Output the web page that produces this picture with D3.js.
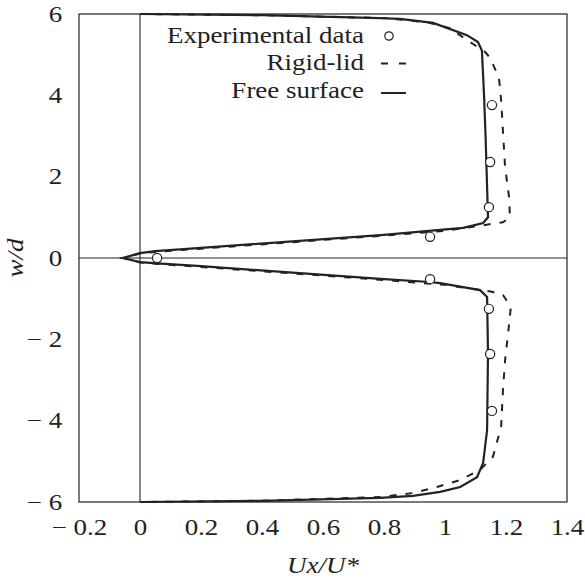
<!DOCTYPE html>
<html>
<head>
<meta charset="utf-8">
<script src="https://cdn.jsdelivr.net/npm/d3@7"></script>
<style>
  body { margin: 0; background: #fff; }
  svg text { font-family: "Liberation Serif", "DejaVu Serif", serif; fill: #222; }
</style>
</head>
<body>
<div id="chart"></div>
<script>
// tick values and labels
var xTicks = [-0.2, 0, 0.2, 0.4, 0.6, 0.8, 1, 1.2, 1.4];
var xTickLabels = ['\u2212 0.2', '0', '0.2', '0.4', '0.6', '0.8', '1', '1.2', '1.4'];
var yTicks = [-6, -4, -2, 0, 2, 4, 6];
var yTickLabels = ['\u2212 6', '\u2212 4', '\u2212 2', '0', '2', '4', '6'];

// free surface (solid) as [Ux/U*, w/d]
var freeSurface = [
  [0, 6], [0.4, 5.97], [0.787, 5.9], [0.852, 5.88], [0.961, 5.78], [1.072, 5.48],
  [1.108, 5.31], [1.121, 5.1], [1.128, 4.0], [1.133, 3.0], [1.137, 2.0], [1.141, 1.0],
  [1.125, 0.86], [1.06, 0.74], [0.984, 0.69], [0.8, 0.57], [0.5, 0.41], [0.2, 0.25],
  [0.05, 0.17], [0, 0.12], [-0.056, 0],
  [0, -0.1], [0.056, -0.13], [0.2, -0.2], [0.5, -0.36], [0.8, -0.52], [0.95, -0.59],
  [0.984, -0.62], [1.115, -0.79], [1.138, -0.96], [1.141, -2.34], [1.138, -4.23],
  [1.125, -5.04], [1.105, -5.39], [1.05, -5.63], [0.984, -5.75], [0.895, -5.85],
  [0.787, -5.9], [0.4, -5.97], [0, -6]
];

// rigid-lid (dashed)
var rigidLid = [
  [0, 6], [0.4, 5.97], [0.8, 5.9], [0.94, 5.8], [1.016, 5.65], [1.082, 5.31],
  [1.131, 5.07], [1.148, 4.92], [1.177, 4.43], [1.184, 3.88], [1.197, 2.24],
  [1.21, 1.5], [1.213, 1.0], [1.19, 0.88], [1.12, 0.8], [1.0, 0.67], [0.8, 0.55],
  [0.5, 0.39], [0.2, 0.23], [0.05, 0.15], [0, 0.11], [-0.056, 0],
  [0, -0.11], [0.05, -0.14], [0.2, -0.22], [0.5, -0.38], [0.8, -0.54], [1.0, -0.66],
  [1.154, -0.83], [1.19, -0.91], [1.216, -1.2], [1.207, -1.85], [1.197, -2.51],
  [1.19, -3.25], [1.184, -4.16], [1.157, -4.89], [1.115, -5.21], [1.05, -5.46],
  [0.974, -5.63], [0.895, -5.78], [0.787, -5.88], [0.4, -5.97], [0, -6]
];

// experimental data (circles)
var experimental = [
  [0.056, 0], [0.951, 0.52], [0.951, -0.52], [1.144, 1.25], [1.148, 2.36],
  [1.154, 3.76], [1.144, -1.25], [1.148, -2.36], [1.154, -3.76]
];

var legendItems = ['Experimental data', 'Rigid-lid', 'Free surface'];

// the original type is a little wider than Liberation Serif
var stretch = 'scale(1.2,1)';

var render = function () {
  var width = 585;
  var height = 583;
  var margins = { top: 14, right: 18, bottom: 81, left: 79 };
  var chartWidth = width - margins.left - margins.right;
  var chartHeight = height - margins.top - margins.bottom;
  var ink = '#222';

  var svg = d3.select('#chart')
    .append('svg')
    .attr('width', width)
    .attr('height', height);

  var chart = svg.append('g')
    .attr('transform', `translate(${margins.left},${margins.top})`);

  var x = d3.scaleLinear().domain([-0.2, 1.4]).range([0, chartWidth]);
  var y = d3.scaleLinear().domain([-6, 6]).range([chartHeight, 0]);

  // axes: labels only, no tick marks
  var xAxis = chart.append('g')
    .attr('transform', `translate(0,${chartHeight})`)
    .call(d3.axisBottom(x)
      .tickValues(xTicks)
      .tickSize(0)
      .tickPadding(17)
      .tickFormat((d, i) => xTickLabels[i]));

  var yAxis = chart.append('g')
    .call(d3.axisLeft(y)
      .tickValues(yTicks)
      .tickSize(0)
      .tickPadding(14)
      .tickFormat((d, i) => yTickLabels[i]));

  [xAxis, yAxis].forEach(a => {
    a.select('.domain').remove();
    a.selectAll('text')
      .style('font-family', '"Liberation Serif", serif')
      .style('font-size', '22.5px')
      .attr('fill', ink)
      .attr('transform', stretch);
  });

  // zero lines
  chart.append('line')
    .attr('x1', x(0)).attr('x2', x(0))
    .attr('y1', 0).attr('y2', chartHeight)
    .attr('stroke', ink).attr('stroke-width', 1.1);
  chart.append('line')
    .attr('x1', 0).attr('x2', chartWidth)
    .attr('y1', y(0)).attr('y2', y(0))
    .attr('stroke', ink).attr('stroke-width', 1.1);

  // frame
  chart.append('rect')
    .attr('width', chartWidth)
    .attr('height', chartHeight)
    .attr('fill', 'none')
    .attr('stroke', ink)
    .attr('stroke-width', 1.2);

  var line = d3.line().x(d => x(d[0])).y(d => y(d[1]));

  chart.append('path')
    .datum(rigidLid)
    .attr('d', line)
    .attr('fill', 'none')
    .attr('stroke', ink)
    .attr('stroke-width', 2)
    .attr('stroke-dasharray', '7,9');

  chart.append('path')
    .datum(freeSurface)
    .attr('d', line)
    .attr('fill', 'none')
    .attr('stroke', ink)
    .attr('stroke-width', 2.2);

  chart.selectAll('.exp')
    .data(experimental)
    .enter()
    .append('circle')
    .attr('class', 'exp')
    .attr('cx', d => x(d[0]))
    .attr('cy', d => y(d[1]))
    .attr('r', 4.6)
    .attr('fill', '#fff')
    .attr('stroke', ink)
    .attr('stroke-width', 1.2);

  // legend
  var legend = chart.append('g').attr('transform', 'translate(285,29)');
  legend.selectAll('text')
    .data(legendItems)
    .enter()
    .append('text')
    .attr('x', 0)
    .attr('y', (d, i) => i * 27.5)
    .attr('text-anchor', 'end')
    .attr('transform', stretch)
    .style('font-size', '22.5px')
    .text(d => d);

  legend.append('circle')
    .attr('cx', 25).attr('cy', -7)
    .attr('r', 4.2)
    .attr('fill', '#fff')
    .attr('stroke', ink)
    .attr('stroke-width', 1.2);
  legend.append('line')
    .attr('x1', 17).attr('x2', 42)
    .attr('y1', 20.5).attr('y2', 20.5)
    .attr('stroke', ink).attr('stroke-width', 2)
    .attr('stroke-dasharray', '7,11');
  legend.append('line')
    .attr('x1', 17).attr('x2', 42)
    .attr('y1', 50).attr('y2', 50)
    .attr('stroke', ink).attr('stroke-width', 2);

  // axis titles
  svg.append('text')
    .attr('transform', `translate(${margins.left + chartWidth / 2},573) ${stretch}`)
    .attr('text-anchor', 'middle')
    .style('font-size', '22.5px')
    .style('font-style', 'italic')
    .text('Ux/U*');

  svg.append('text')
    .attr('transform', `translate(23,${margins.top + y(0)}) rotate(-90) ${stretch}`)
    .attr('text-anchor', 'middle')
    .style('font-size', '22.5px')
    .style('font-style', 'italic')
    .text('w/d');
};

render();
</script>
</body>
</html>
